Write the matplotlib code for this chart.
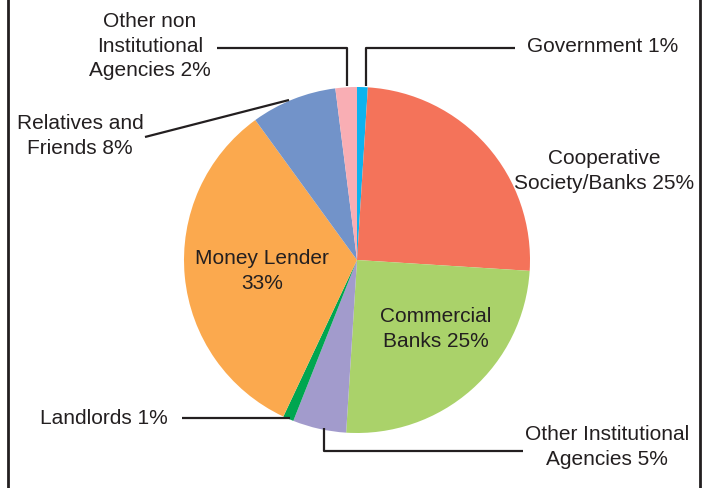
import matplotlib
matplotlib.use("Agg")
import matplotlib.pyplot as plt

# sources of credit, clockwise from 12 o'clock
sources = ["Government", "Cooperative\nSociety/Banks", "Commercial\nBanks",
           "Other Institutional\nAgencies", "Landlords", "Money Lender",
           "Relatives and\nFriends", "Other non\nInstitutional\nAgencies"]
shares = [1, 25, 25, 5, 1, 33, 8, 2]
colors = ["#0CB3EE", "#F4735A", "#AAD26A", "#A29BCC", "#00A650",
          "#FBA94E", "#7293C9", "#F9AEB4"]

W, H = 705, 488
plt.rcParams["font.family"] = ["Liberation Sans", "DejaVu Sans"]
TXT = "#231F20"
FS = 15
LS = 1.38

fig = plt.figure(figsize=(W / 100, H / 100), dpi=100)
ax = fig.add_axes([0, 0, 1, 1])

cx, cy, r = 357, H - 260, 173
ax.pie(shares, colors=colors, startangle=90, counterclock=False,
       center=(cx, cy), radius=r, wedgeprops=dict(linewidth=0), frame=True)
ax.set_xlim(0, W)
ax.set_ylim(0, H)
ax.set_aspect("equal")
ax.axis("off")


def y(v):
    return H - v


tk = dict(va="center", multialignment="center", fontsize=FS, color=TXT,
          linespacing=LS)

# label text placed as in the reference
ax.text(527, y(46), f"{sources[0]} {shares[0]}%", ha="left", **tk)
ax.text(604, y(171), f"{sources[1]} {shares[1]}%", ha="center", **tk)
ax.text(436, y(329), f"{sources[2]} {shares[2]}%", ha="center", **tk)
ax.text(607, y(447), f"{sources[3]} {shares[3]}%", ha="center", **tk)
ax.text(40, y(418), f"{sources[4]} {shares[4]}%", ha="left", **tk)
ax.text(262, y(271), f"{sources[5]}\n{shares[5]}%", ha="center", **tk)
ax.text(80, y(136), f"{sources[6]} {shares[6]}%", ha="center", **tk)
ax.text(150, y(46), f"{sources[7]} {shares[7]}%", ha="center", **tk)

# leader lines
lk = dict(color=TXT, linewidth=1.6, solid_capstyle="butt")
ax.plot([515, 366, 366], [y(48), y(48), y(86)], **lk)
ax.plot([217, 347, 347], [y(48), y(48), y(86)], **lk)
ax.plot([145, 289], [y(137), y(100)], **lk)
ax.plot([182, 290], [y(418), y(418)], **lk)
ax.plot([324, 324, 523], [y(428), y(451), y(451)], **lk)

# side frame
ax.plot([8, 8], [0, H], color=TXT, linewidth=2)
ax.plot([700, 700], [0, H], color=TXT, linewidth=2)

fig.savefig("out.png", dpi=100)
